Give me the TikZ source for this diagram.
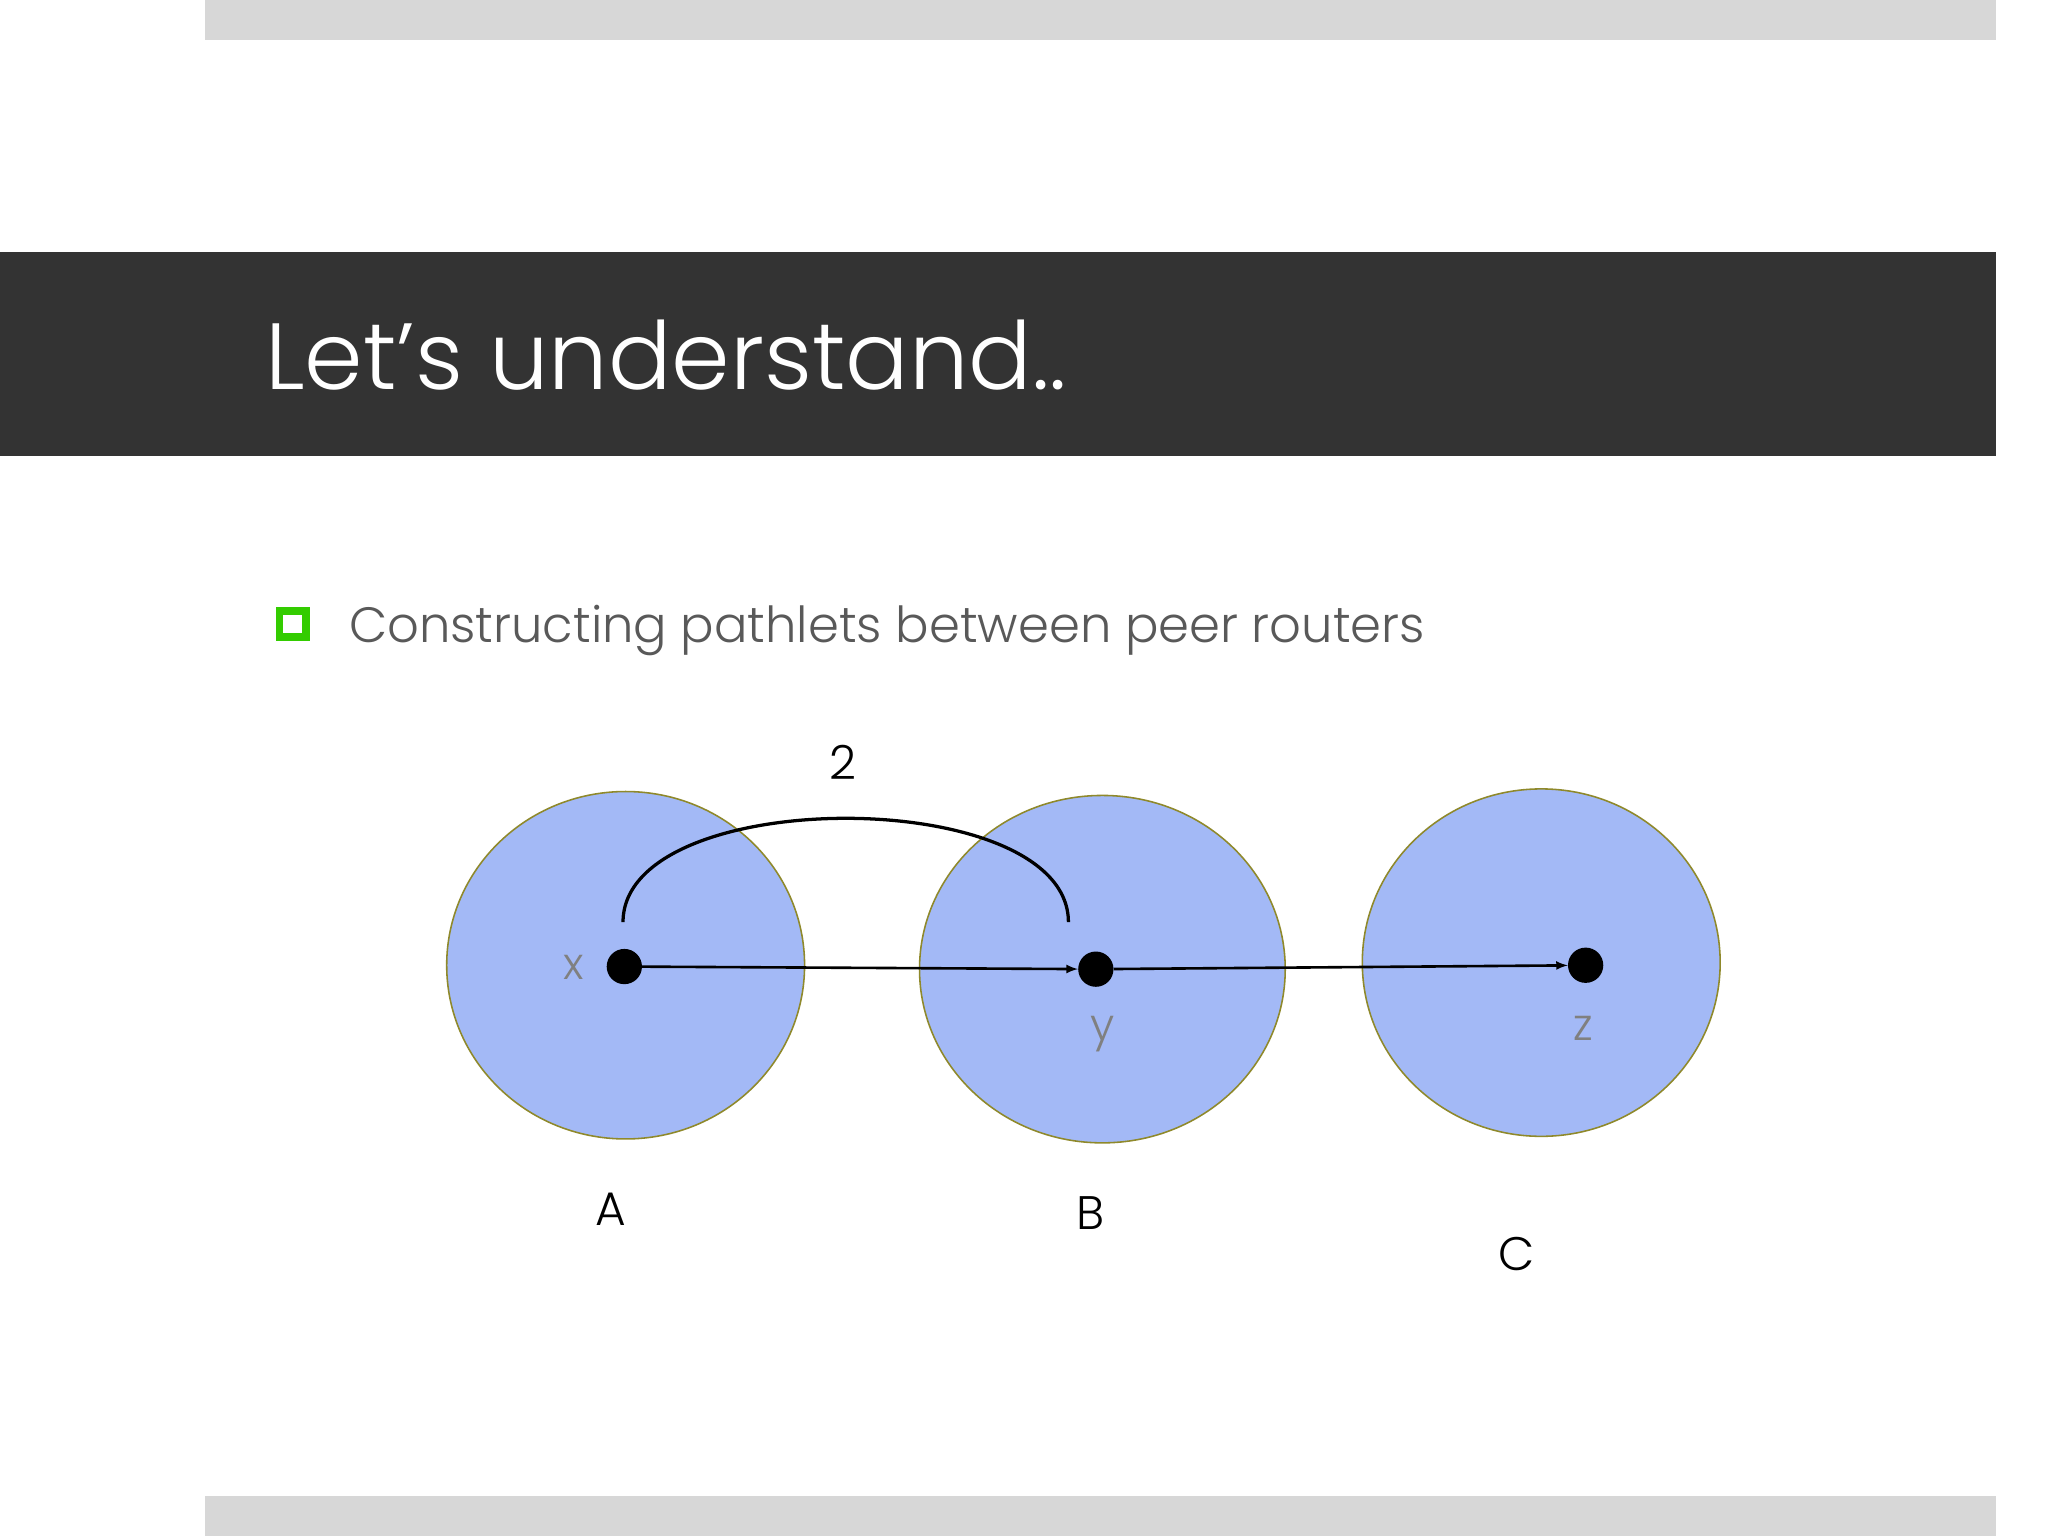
\documentclass[tikz,border=0pt]{standalone}
\usepackage{fontspec}
\setmainfont{Poppins Light}[BoldFont=Poppins]
\begin{document}
\begin{tikzpicture}[x=1pt,y=-1pt,
  circ/.style={fill=blue!35!cyan!10!white, draw=olive!70!gray, line width=1.2pt},
  dot/.style={circle,fill=black,inner sep=0pt,minimum size=27pt},
  arr/.style={-latex, line width=2pt},
  lab/.style={font=\fontsize{36}{40}\selectfont, text=black},
  small/.style={font=\fontsize{34}{38}\selectfont, text=gray}]
\useasboundingbox (0,0) rectangle (1568,1176);
\fill[white] (0,0) rectangle (1568,1176);
\fill[black!5!gray!30] (157,0) rectangle (1528,31);
\fill[black!5!gray!30] (157,1145) rectangle (1528,1176);
\fill[black!80] (0,193) rectangle (1528,349);
\node[anchor=base west, text=white, font=\fontsize{72}{80}\selectfont, inner sep=0] (title) at (203,298) {Let’s understand..};
\node[draw=green!60!olive, line width=6pt, minimum size=20pt, inner sep=0] (bul) at (224,478) {};
\node[anchor=base west, text=black!65, font=\fontsize{38}{44}\selectfont, inner sep=0] (txt) at (267,492) {Constructing pathlets between peer routers};
\definecolor{cfill}{HTML}{A3B9F6}
\filldraw[circ, fill=cfill] (479,739) ellipse (137 and 133);
\filldraw[circ, fill=cfill] (844,742) ellipse (140 and 133);
\filldraw[circ, fill=cfill] (1180,737) ellipse (137 and 133);
\node[dot] (x) at (478,740) {};
\node[dot] (y) at (839,742) {};
\node[dot] (z) at (1214,739) {};
\node[small] (lx) at (439,741) {x};
\node[small] (ly) at (844,792) {y};
\node[small] (lz) at (1212,787) {z};
\draw[arr] (x) -- (y);
\draw[arr] (y) -- (z);
\coordinate (a1) at (477,706);
\coordinate (a2) at (818,706);
\draw[line width=2.5pt] (a1) .. controls (477,600) and (818,600) .. (a2);
\node[lab] (two) at (645,584) {2};
\node[lab] (A) at (468,926) {A};
\node[lab] (B) at (835,929) {B};
\node[lab] (C) at (1161,960) {C};
\end{tikzpicture}
\end{document}
